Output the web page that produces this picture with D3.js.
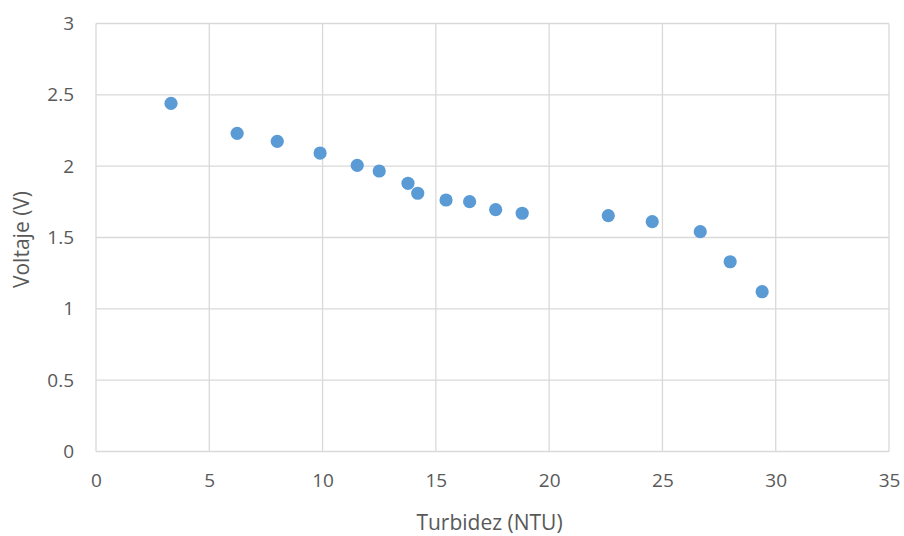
<!DOCTYPE html>
<html><head><meta charset="utf-8">
<script src="https://cdn.jsdelivr.net/npm/d3@7"></script>
<style>body{margin:0;background:#fff}svg{display:block}text{font-family:"Open Sans","Noto Sans",sans-serif;fill:#595959}</style>
</head><body><svg id="c" width="904" height="536"></svg>
<script>
const turbidez = [3.31,6.23,8.0,9.89,11.53,12.5,13.77,14.2,15.45,16.49,17.64,18.81,22.61,24.55,26.67,27.99,29.4];
const voltaje  = [2.44,2.23,2.174,2.092,2.006,1.966,1.88,1.81,1.763,1.751,1.695,1.67,1.653,1.611,1.541,1.33,1.12];
const xTicks = [0,5,10,15,20,25,30,35];
const yTicks = [0,0.5,1,1.5,2,2.5,3];
const xTitle = "Turbidez (NTU)";
const yTitle = "Voltaje (V)";

const svg = d3.select("#c");
const L=96,R=889,T=23.5,B=451.5;
const x = d3.scaleLinear().domain([0,35]).range([L,R]);
const y = d3.scaleLinear().domain([0,3]).range([B,T]);

const grid = svg.append("g");
grid.selectAll("line.v").data(xTicks).join("line")
  .attr("x1",d=>x(d)).attr("x2",d=>x(d)).attr("y1",T).attr("y2",B)
  .attr("stroke","#d9d9d9").attr("stroke-width",1.3);
grid.selectAll("line.h").data(yTicks).join("line")
  .attr("y1",d=>y(d)).attr("y2",d=>y(d)).attr("x1",L).attr("x2",R)
  .attr("stroke","#d9d9d9").attr("stroke-width",1.3);

const xa = svg.append("g").attr("transform",`translate(0,${B})`)
  .call(d3.axisBottom(x).tickValues(xTicks).tickSize(0).tickPadding(22).tickFormat(d3.format("")));
xa.select(".domain").remove();
xa.selectAll("text").style("font-size","19px").attr("fill","#595959");

const ya = svg.append("g").attr("transform",`translate(${L},0)`)
  .call(d3.axisLeft(y).tickValues(yTicks).tickSize(0).tickPadding(22).tickFormat(d3.format("")));
ya.select(".domain").remove();
ya.selectAll("text").style("font-size","19px").attr("fill","#595959");

svg.append("g").selectAll("circle").data(turbidez).join("circle")
  .attr("cx",d=>x(d)).attr("cy",(d,i)=>y(voltaje[i])).attr("r",6.6)
  .attr("fill","#5b9bd5");

svg.append("text").attr("x",(L+R)/2-3).attr("y",530).attr("text-anchor","middle")
  .style("font-size","21px").text(xTitle);
svg.append("text").attr("transform",`translate(29,${(T+B)/2+2}) rotate(-90)`).attr("text-anchor","middle")
  .style("font-size","21px").text(yTitle);
</script></body></html>
